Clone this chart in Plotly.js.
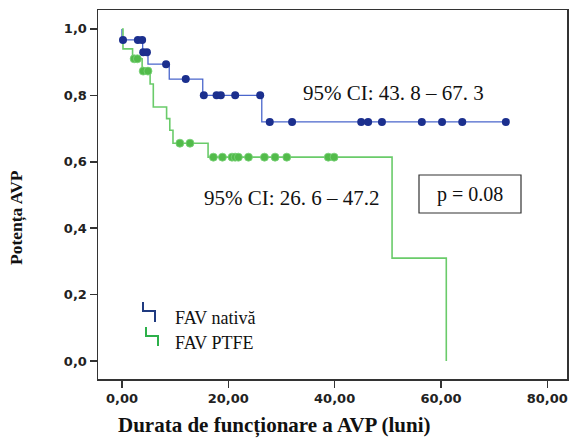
<!DOCTYPE html>
<html>
<head>
<meta charset="utf-8">
<script src="https://cdn.plot.ly/plotly-3.0.1.min.js"></script>
<style>html,body{margin:0;padding:0;background:#fff;}#chart{width:571px;height:439px;}</style>
</head>
<body>
<div id="chart"></div>
<script>
// Kaplan-Meier step points (time in months, survival)
var nativeStepTimes = [0, 0, 3.9, 4.9, 8.9, 15.2, 26.3, 72.2];
var nativeStepSurv  = [1.0, 0.967, 0.93, 0.894, 0.849, 0.80, 0.72, 0.72];
var nativeCensTimes = [0.2, 3.0, 3.8, 4.0, 4.7, 8.3, 12.0, 15.4, 17.8, 18.6, 21.3, 26.0, 27.8, 32.0, 45.0, 46.3, 48.9, 56.4, 60.2, 64.0, 72.2];
var nativeCensSurv  = [0.967, 0.967, 0.967, 0.93, 0.93, 0.894, 0.849, 0.80, 0.80, 0.80, 0.80, 0.80, 0.72, 0.72, 0.72, 0.72, 0.72, 0.72, 0.72, 0.72, 0.72];

var ptfeStepTimes = [0, 0.2, 2.0, 3.8, 5.3, 5.9, 8.4, 9.0, 9.6, 16.2, 50.8, 61.0];
var ptfeStepSurv  = [1.0, 0.94, 0.91, 0.873, 0.834, 0.765, 0.73, 0.695, 0.656, 0.614, 0.31, 0.0];
var ptfeCensTimes = [2.3, 2.9, 4.0, 4.9, 10.9, 12.8, 17.2, 18.9, 20.7, 21.3, 21.9, 23.8, 26.8, 28.8, 31.0, 38.8, 39.9];
var ptfeCensSurv  = [0.91, 0.91, 0.873, 0.873, 0.656, 0.656, 0.614, 0.614, 0.614, 0.614, 0.614, 0.614, 0.614, 0.614, 0.614, 0.614, 0.614];

var seriesNames = ['FAV nativă', 'FAV PTFE'];
var xTickVals = [0, 20, 40, 60, 80];
var yTickVals = [0, 0.2, 0.4, 0.6, 0.8, 1.0];
var ciNative = '95% CI: 43. 8 – 67. 3';
var ciPtfe = '95% CI: 26. 6 – 47.2';
var pText = 'p = 0.08';

var W = 571, H = 439, mL = 98, mR = 4, mT = 10, mB = 60;
var pw = W - mL - mR, ph = H - mT - mB;
function px(x){ return (x - mL) / pw; }
function py(y){ return (H - mB - y) / ph; }

var blueLine = '#4a66cc', blueDot = '#1b2f8e';
var greenLine = '#6acb6a', greenDot = '#52bb4a';

var traces = [
  {x: nativeStepTimes, y: nativeStepSurv, mode: 'lines', line: {shape: 'hv', color: blueLine, width: 1.3}, showlegend: false, hoverinfo: 'skip'},
  {x: ptfeStepTimes, y: ptfeStepSurv, mode: 'lines', line: {shape: 'hv', color: greenLine, width: 1.6}, showlegend: false, hoverinfo: 'skip'},
  {x: nativeCensTimes, y: nativeCensSurv, mode: 'markers', marker: {symbol: 'circle', size: 8, color: blueDot}, showlegend: false},
  {x: ptfeCensTimes, y: ptfeCensSurv, mode: 'markers', marker: {symbol: 'circle', size: 8, color: greenDot, line: {color: '#7ad27a', width: 0.8}}, showlegend: false}
];

function pathPx(pts){
  return pts.map(function(p, i){ return (i ? 'L' : 'M') + px(p[0]) + ',' + py(p[1]); }).join(' ');
}

var layout = {
  width: W, height: H,
  margin: {l: mL, r: mR, t: mT, b: mB},
  paper_bgcolor: '#fff', plot_bgcolor: '#fff',
  separators: ',.',
  showlegend: false,
  xaxis: {
    range: [-4.5, 83.7], tickvals: xTickVals, tickformat: '.2f',
    showgrid: false, zeroline: false, showline: true, mirror: true,
    linecolor: '#333', linewidth: 1.5, ticks: 'outside', ticklen: 7, tickwidth: 1.5, tickcolor: '#333',
    tickfont: {family: 'DejaVu Sans', size: 13, color: '#222', weight: 'bold'}
  },
  yaxis: {
    range: [-0.054, 1.057], tickvals: yTickVals, tickformat: '.1f',
    showgrid: false, zeroline: false, showline: true, mirror: true,
    linecolor: '#333', linewidth: 1.5, ticks: 'outside', ticklen: 7, tickwidth: 1.5, tickcolor: '#333',
    tickfont: {family: 'DejaVu Sans', size: 13, color: '#222', weight: 'bold'}
  },
  shapes: [
    {type: 'rect', xref: 'paper', yref: 'paper', x0: px(419), x1: px(521), y0: py(213), y1: py(175), line: {color: '#333', width: 1.2}},
    {type: 'path', xref: 'paper', yref: 'paper', path: pathPx([[143,302],[143,311],[155,311],[155,322]]), line: {color: '#1f3a80', width: 2}},
    {type: 'path', xref: 'paper', yref: 'paper', path: pathPx([[146,327],[146,336],[158,336],[158,346]]), line: {color: '#2db04a', width: 2}}
  ],
  annotations: [
    {text: ciNative, xref: 'paper', yref: 'paper', x: px(393), y: py(93), xanchor: 'center', yanchor: 'middle', showarrow: false, font: {family: 'Liberation Serif', size: 21, color: '#111'}},
    {text: ciPtfe, xref: 'paper', yref: 'paper', x: px(292), y: py(198), xanchor: 'center', yanchor: 'middle', showarrow: false, font: {family: 'Liberation Serif', size: 21, color: '#111'}},
    {text: pText, xref: 'paper', yref: 'paper', x: px(470), y: py(194), xanchor: 'center', yanchor: 'middle', showarrow: false, font: {family: 'Liberation Serif', size: 20, color: '#111'}},
    {text: seriesNames[0], xref: 'paper', yref: 'paper', x: px(173), y: py(318), xanchor: 'left', yanchor: 'middle', showarrow: false, font: {family: 'Liberation Serif', size: 18, color: '#111'}},
    {text: seriesNames[1], xref: 'paper', yref: 'paper', x: px(173), y: py(343), xanchor: 'left', yanchor: 'middle', showarrow: false, font: {family: 'Liberation Serif', size: 18, color: '#111'}},
    {text: '<b>Durata de funcționare a AVP (luni)</b>', xref: 'paper', yref: 'paper', x: px(274), y: py(426), xanchor: 'center', yanchor: 'middle', showarrow: false, font: {family: 'Liberation Serif', size: 21, color: '#111'}},
    {text: '<b>Potența AVP</b>', xref: 'paper', yref: 'paper', x: px(17), y: py(218), xanchor: 'center', yanchor: 'middle', textangle: -90, showarrow: false, font: {family: 'Liberation Serif', size: 17.5, color: '#111'}}
  ]
};

Plotly.newPlot('chart', traces, layout, {displayModeBar: false, staticPlot: true});
</script>
</body>
</html>
